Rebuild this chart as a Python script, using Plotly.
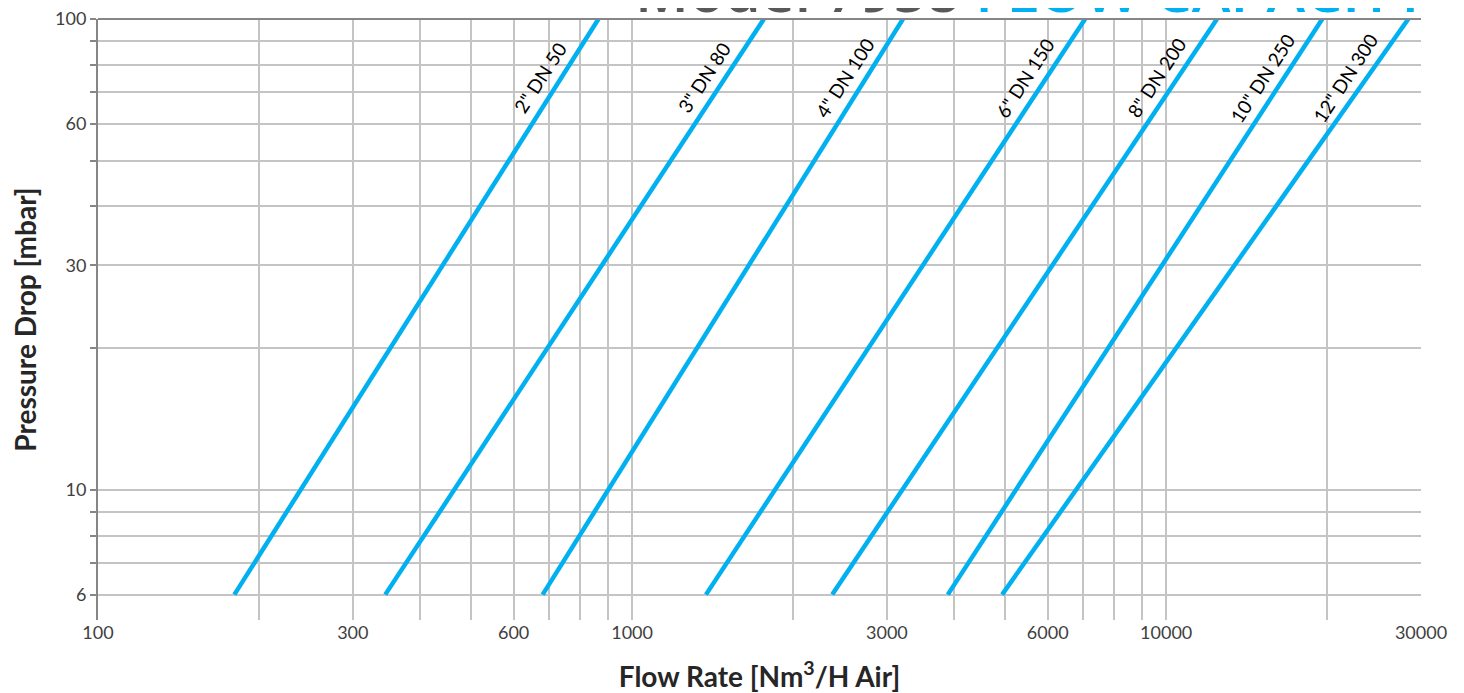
import numpy as np
import plotly.graph_objects as go

# ---- data ----
sizes = ['2" DN 50', '3" DN 80', '4" DN 100', '6" DN 150', '8" DN 200', '10" DN 250', '12" DN 300']
pressure_mbar = [6, 100]                       # each line runs from 6 to 100 mbar
flow_at_6 = [180, 345, 680, 1375, 2370, 3900, 4930]
flow_at_100 = [865, 1765, 3215, 7050, 12450, 19600, 28400]

x_tickvals = [100, 300, 600, 1000, 3000, 6000, 10000, 30000]
x_minor = [200, 400, 500, 700, 800, 900, 2000, 4000, 5000, 7000, 8000, 9000, 20000]
y_tickvals = [6, 10, 30, 60, 100]
y_minor = [7, 8, 9, 20, 40, 50, 70, 80, 90]
y_major_grid = [10]

label_pressure = 75

BLUE = "#00B0F0"
LIGHT = "#C4C4C4"
DARK = "#868686"
FONT = "Lato"

fig = go.Figure()
for name, q0, q1 in zip(sizes, flow_at_6, flow_at_100):
    fig.add_trace(go.Scatter(x=[q0, q1], y=pressure_mbar, mode="lines",
                             line=dict(color=BLUE, width=4.5), name=name,
                             hoverinfo="name"))
    # label position on the line (log-log interpolation)
    lp = np.log10(pressure_mbar)
    lq = np.log10([q0, q1])
    xq = 10 ** np.interp(np.log10(label_pressure), lp, lq)
    fig.add_annotation(x=np.log10(xq), y=np.log10(label_pressure), text=name,
                       showarrow=False, textangle=-57, xshift=-21,
                       font=dict(family=FONT, size=19, color="#000000"))

for yv in y_major_grid:
    fig.add_shape(type="line", xref="paper", x0=0, x1=1, yref="y", y0=yv, y1=yv,
                  line=dict(color=DARK, width=2), layer="below")
# dark top frame line (the 100 mbar major gridline)
fig.add_shape(type="line", xref="paper", x0=0, x1=1, yref="paper", y0=1, y1=1,
              line=dict(color=DARK, width=2), layer="above")

fig.add_annotation(xref="paper", yref="paper", x=1.0, y=1.0, xanchor="right", yanchor="bottom",
                   yshift=-12, xshift=9, showarrow=False,
                   text="Model 7958 <span style='color:%s'>FLOW CAPACITY</span>" % BLUE,
                   font=dict(family="Open Sans", size=58.5, color="#58595B", weight=600))

fig.update_xaxes(type="log", range=[2, np.log10(30000)], automargin=False,
                 tickvals=x_tickvals, ticktext=[str(v) for v in x_tickvals],
                 showgrid=True, gridcolor=LIGHT, gridwidth=1.5,
                 minor=dict(tickvals=x_minor, showgrid=True, gridcolor=LIGHT, gridwidth=1.5, ticks=""),
                 ticks="", showline=False, zeroline=False, ticklabeloverflow="allow",
                 tickfont=dict(family=FONT, size=18, color="#404040"),
                 title=dict(text="<b>Flow Rate [Nm<sup>3</sup>/H Air]</b>", standoff=25,
                            font=dict(family=FONT, size=28, color="#262626")))
fig.update_yaxes(type="log", range=[np.log10(5.3), 2], automargin=False,
                 tickvals=y_tickvals, ticktext=[str(v) for v in y_tickvals],
                 showgrid=True, gridcolor=LIGHT, gridwidth=1.5,
                 minor=dict(tickvals=y_minor, showgrid=True, gridcolor=LIGHT, gridwidth=1.5,
                            ticks="outside", ticklen=6, tickcolor=DARK, tickwidth=1.5),
                 ticks="outside", ticklen=6, tickcolor=DARK, tickwidth=1.5,
                 showline=True, linecolor=DARK, linewidth=2, zeroline=False,
                 ticklabeloverflow="allow",
                 tickfont=dict(family=FONT, size=18, color="#404040"),
                 title=dict(text="<b>Pressure Drop [mbar]</b>", standoff=26,
                            font=dict(family=FONT, size=28, color="#262626")))

# page body has an 8px default margin; margins compensate so the plot area
# lands at the reference position (x 98-1421, y 19-620)
fig.update_layout(width=1464, height=693, showlegend=False,
                  paper_bgcolor="white", plot_bgcolor="white",
                  margin=dict(l=90, r=51, t=11, b=81))

fig.write_html("out.html")
